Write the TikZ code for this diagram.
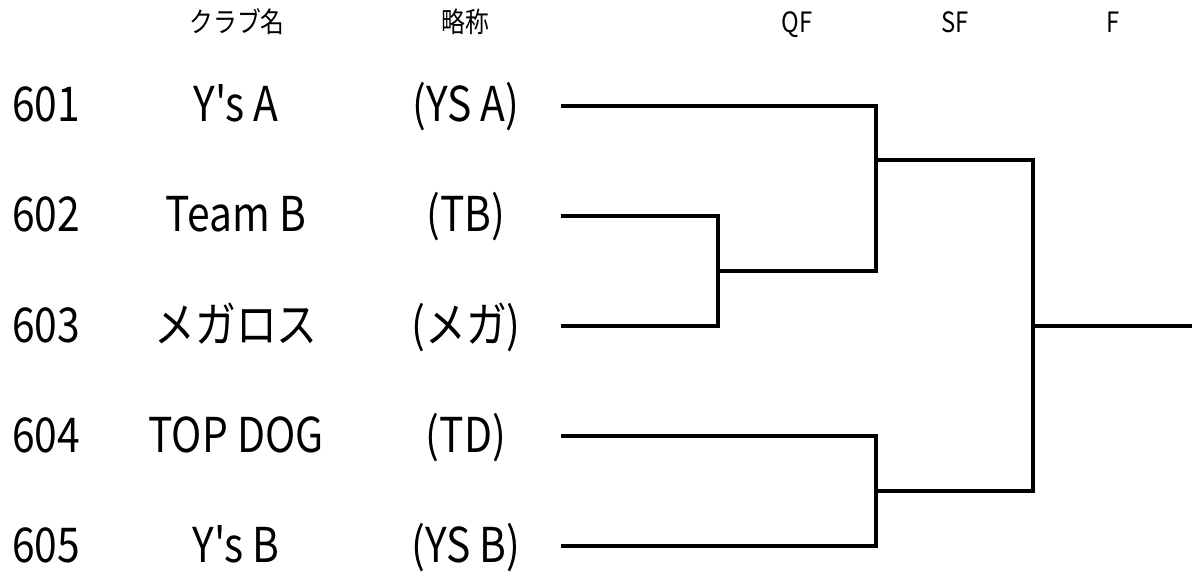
\documentclass[tikz,border=0pt]{standalone}
\usepackage{fontspec}
\newfontfamily\jpfont{Noto Sans CJK JP}[FakeStretch=0.85]

\begin{document}
\begin{tikzpicture}[x=1pt,y=-1pt,
        head/.style={font=\jpfont\fontsize{28}{32}\selectfont, inner sep=0, anchor=base},
        entry/.style={font=\jpfont\fontsize{48}{54}\selectfont, inner sep=0, anchor=base},
        num/.style={entry, anchor=base west},
        bracket/.style={line width=3.5pt}]
            \useasboundingbox (0,0) rectangle (1192,572);

            % column heads
            \node[head] at (237,33) (hclub) {クラブ名};
            \node[head] at (465,33) (habbr) {略称};
            \node[head] at (797,33) (hqf) {QF};
            \node[head] at (955,33) (hsf) {SF};
            \node[head] at (1113,33) (hf) {F};

            % teams
            \node[num] at (12,122) (n1) {601};
            \node[num] at (12,232) (n2) {602};
            \node[num] at (12,342) (n3) {603};
            \node[num] at (12,452) (n4) {604};
            \node[num] at (12,562) (n5) {605};

            \node[entry] at (236,122) (c1) {Y's A};
            \node[entry] at (236,232) (c2) {Team B};
            \node[entry] at (236,342) (c3) {メガロス};
            \node[entry] at (236,452) (c4) {TOP DOG};
            \node[entry] at (236,562) (c5) {Y's B};

            \node[entry] at (466,122) (a1) {(YS A)};
            \node[entry] at (466,232) (a2) {(TB)};
            \node[entry] at (466,342) (a3) {(メガ)};
            \node[entry] at (466,452) (a4) {(TD)};
            \node[entry] at (466,562) (a5) {(YS B)};

            % bracket
            \coordinate (s1) at (561,106);
            \coordinate (s2) at (561,216);
            \coordinate (s3) at (561,326);
            \coordinate (s4) at (561,436);
            \coordinate (s5) at (561,546);
            \coordinate (q1) at (718,271);
            \coordinate (sf1) at (876,160);
            \coordinate (sf2) at (876,491);
            \coordinate (f1) at (1033,326);
            \coordinate (win) at (1192,326);

            \draw[bracket] (s2) -| (q1) |- (s3);
            \draw[bracket] (s1) -| (sf1) |- (q1);
            \draw[bracket] (s4) -| (sf2) |- (s5);
            \draw[bracket] (sf1) -| (f1) |- (sf2);
            \draw[bracket] (f1) -- (win);
        \end{tikzpicture}
\end{document}
